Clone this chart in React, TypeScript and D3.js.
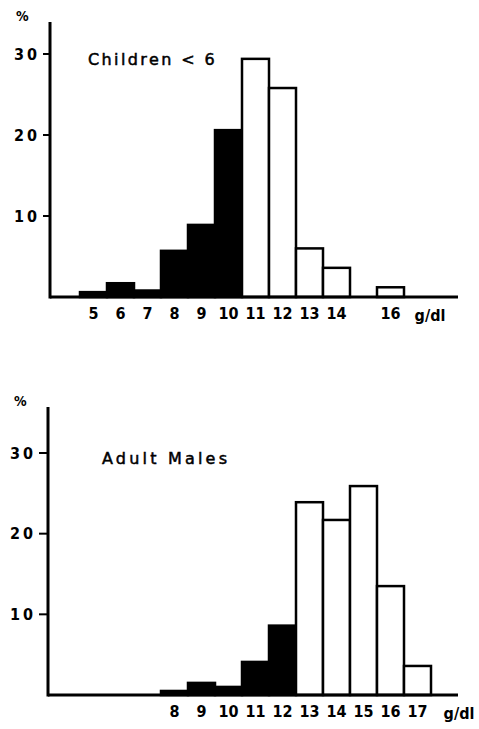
import { scaleLinear } from 'd3'

// Haemoglobin distribution (% of group per 1 g/dl bin)
const childBins = [5, 6, 7, 8, 9, 10, 11, 12, 13, 14, 15, 16]
const childValues = [0.6, 1.7, 0.8, 5.7, 8.9, 20.6, 29.4, 25.8, 6.0, 3.6, 0, 1.2]
const childTickLabels = ['5', '6', '7', '8', '9', '10', '11', '12', '13', '14', '', '16']
const childAnaemicBelow = 11

const adultBins = [8, 9, 10, 11, 12, 13, 14, 15, 16, 17]
const adultValues = [0.5, 1.5, 1.0, 4.1, 8.6, 23.9, 21.7, 25.9, 13.5, 3.6]
const adultTickLabels = ['8', '9', '10', '11', '12', '13', '14', '15', '16', '17']
const adultAnaemicBelow = 13

const yTicks = [10, 20, 30]

const width = 479,
      height = 729
const font = '"DejaVu Sans Condensed", "DejaVu Sans", sans-serif'
const titleFont = '"DejaVu Sans", sans-serif'

type PanelProps = {
  bins: number[]
  values: number[]
  labels: string[]
  cutoff: number
  title: string
  titleX: number
  titleSpacing: number
  axisX: number
  axisTop: number
  base: number
  top30: number
  unitX: number
  tickLen: number
}

function Panel(p: PanelProps) {
  const x = scaleLinear([5, 17], [80, 404])
  const y = scaleLinear([0, 30], [p.base, p.top30])

  return (
    <g>
      {p.bins.map((b, i) => p.values[i] > 0 && (
        <rect key={b}
          x={x(b)} y={y(p.values[i])}
          width={x(b + 1) - x(b)} height={y(0) - y(p.values[i])}
          fill={b < p.cutoff ? '#000' : '#fff'}
          stroke='#000' strokeWidth={2.5} />
      ))}
      <line x1={p.axisX} x2={p.axisX} y1={p.axisTop} y2={p.base + 1.5} stroke='#000' strokeWidth={3} />
      <line x1={p.axisX} x2={458} y1={p.base} y2={p.base} stroke='#000' strokeWidth={3} />
      {yTicks.map(t => (
        <g key={t}>
          <line x1={p.axisX - p.tickLen} x2={p.axisX} y1={y(t)} y2={y(t)} stroke='#000' strokeWidth={2} />
          <text x={p.axisX - p.tickLen - 3} y={y(t)} dy='0.36em' textAnchor='end'
            fontSize={16} fontWeight='bold' letterSpacing={3} fontFamily={font}>{t}</text>
        </g>
      ))}
      <text x={p.axisX - 34} y={p.axisTop - 1} fontSize={14} fontWeight='bold' fontFamily={font}>%</text>
      {p.bins.map((b, i) => (
        <text key={b} x={x(b + 0.5)} y={p.base + 22} textAnchor='middle'
          fontSize={16} fontWeight='bold' fontFamily={font}>{p.labels[i]}</text>
      ))}
      <text x={p.unitX} y={p.base + 24} textAnchor='middle'
        fontSize={16} fontWeight='bold' fontFamily={font}>g/dl</text>
      <text x={p.titleX} y={y(30) + 5} dy='0.36em' fontSize={16}
        stroke='#000' strokeWidth={0.5}
        letterSpacing={p.titleSpacing} fontFamily={titleFont}>{p.title}</text>
    </g>
  )
}

function App() {
  return (
    <svg width={width} height={height} viewBox={`0 0 ${width} ${height}`}
      style={{ position: 'absolute', left: 0, top: 0, background: '#fff' }}>
      <Panel bins={childBins} values={childValues} labels={childTickLabels}
        cutoff={childAnaemicBelow} title='Children  < 6' titleX={88} titleSpacing={2.4}
        axisX={50} axisTop={22} base={297} top30={54} unitX={430} tickLen={7} />
      <Panel bins={adultBins} values={adultValues} labels={adultTickLabels}
        cutoff={adultAnaemicBelow} title='Adult Males' titleX={102} titleSpacing={3.2}
        axisX={48} axisTop={407} base={695} top30={453} unitX={459} tickLen={9} />
    </svg>
  )
}

export default App
